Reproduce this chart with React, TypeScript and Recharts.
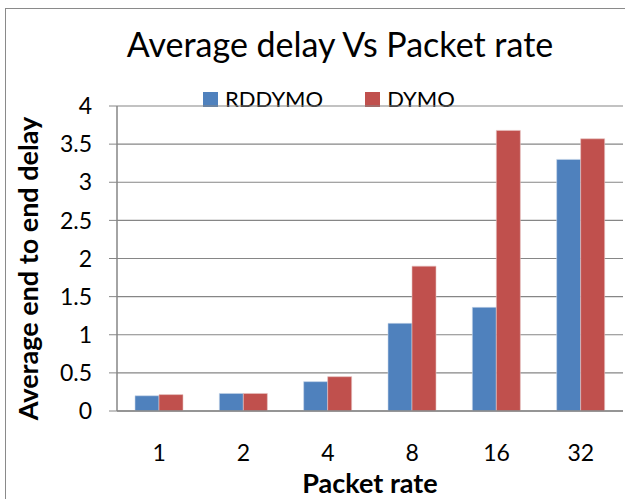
import { BarChart, Bar, XAxis, YAxis, CartesianGrid } from 'recharts';

const packetRates = ['1', '2', '4', '8', '16', '32'];
const rddymoDelay = [0.2, 0.23, 0.385, 1.15, 1.36, 3.3];
const dymoDelay = [0.215, 0.23, 0.45, 1.9, 3.68, 3.57];
const yTicks = [0, 0.5, 1, 1.5, 2, 2.5, 3, 3.5, 4];

const seriesNames = ['RDDYMO', 'DYMO'];
const seriesColors = ['#4F81BD', '#C0504D'];

const data = packetRates.map((rate, i) => ({
  rate,
  rddymo: rddymoDelay[i],
  dymo: dymoDelay[i],
}));

const FONT = 'Lato, "Open Sans", sans-serif';
const GRID = '#868686';

const YLabel = ({ viewBox }: any) => {
  const x = viewBox.x + 38;
  const y = viewBox.y + viewBox.height / 2 + 10;
  return (
    <text x={x} y={y} transform={`rotate(-90 ${x} ${y})`} textAnchor="middle"
      fontSize={27} fontWeight="bold" fill="#000" fontFamily={FONT}>
      Average end to end delay
    </text>
  );
};

const XLabel = ({ viewBox }: any) => {
  const x = viewBox.x + viewBox.width / 2;
  return (
    <text x={x} y={viewBox.y + 82} textAnchor="middle"
      fontSize={27} fontWeight="bold" fill="#000" fontFamily={FONT}>
      Packet rate
    </text>
  );
};

export default function App() {
  return (
    <div style={{ position: 'absolute', left: 0, top: 0, width: 625, height: 499, overflow: 'hidden', background: '#fff', fontFamily: FONT }}>
      <div style={{ position: 'absolute', left: 5, top: 8, width: 700, height: 600, border: '1.5px solid #8a8a8a' }} />
      <div style={{ position: 'absolute', left: 0, top: 27, width: 680, textAlign: 'center', fontSize: 34, lineHeight: '34px', color: '#000' }}>
        Average delay Vs Packet rate
      </div>
      <div style={{ position: 'absolute', left: 203, top: 86, display: 'flex', fontSize: 22, lineHeight: '26px', color: '#000' }}>
        {seriesNames.map((name, i) => (
          <div key={name} style={{ display: 'flex', alignItems: 'center', marginRight: 42 }}>
            <span style={{ width: 15, height: 15, background: seriesColors[i], marginRight: 7, display: 'inline-block' }} />
            {name}
          </div>
        ))}
      </div>
      <BarChart width={640} height={499} data={data} barGap={0} barSize={24}
        margin={{ top: 106, right: 17, bottom: 0, left: 0 }}>
        <CartesianGrid vertical={false} stroke={GRID} strokeWidth={1.2} />
        <XAxis dataKey="rate" height={88} tickLine={false} axisLine={{ stroke: GRID, strokeWidth: 1.5 }}
          tickMargin={28} tick={{ fontSize: 23, fill: '#000', fontFamily: FONT }} label={<XLabel />} />
        <YAxis width={117} domain={[0, 4]} ticks={yTicks} tickSize={8} tickMargin={17}
          tickLine={{ stroke: GRID }} axisLine={{ stroke: GRID, strokeWidth: 1.5 }}
          tick={{ fontSize: 23, fill: '#000', fontFamily: FONT }} label={<YLabel />} />
        <Bar dataKey="rddymo" name={seriesNames[0]} fill={seriesColors[0]} stroke="#c9d6ea" strokeWidth={0.6} isAnimationActive={false} />
        <Bar dataKey="dymo" name={seriesNames[1]} fill={seriesColors[1]} stroke="#e6c2c1" strokeWidth={0.6} isAnimationActive={false} />
      </BarChart>
    </div>
  );
}
